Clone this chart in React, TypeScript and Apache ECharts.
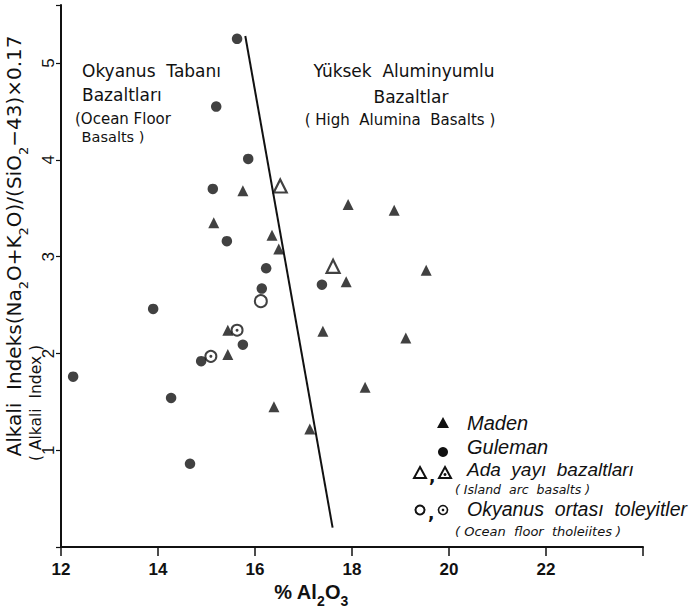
import React, { useEffect, useRef } from "react";
import * as echarts from "echarts";

// Data: [Al2O3 %, Alkali index]
const maden = [
  [15.75, 3.68], [17.92, 3.54], [18.87, 3.48], [15.15, 3.35], [16.35, 3.22],
  [16.49, 3.08], [17.88, 2.74], [19.53, 2.86], [17.4, 2.23], [19.11, 2.16],
  [18.27, 1.65], [15.44, 2.24], [15.44, 1.99], [16.39, 1.45], [17.13, 1.22],
];
const guleman = [
  [15.63, 5.25], [15.2, 4.55], [15.86, 4.01], [15.13, 3.7], [15.42, 3.16],
  [16.23, 2.88], [16.14, 2.67], [17.38, 2.71], [13.9, 2.46], [15.75, 2.09],
  [14.89, 1.92], [12.25, 1.76], [14.27, 1.54], [14.66, 0.86],
];
const islandArcOpen = [[16.52, 3.73], [17.61, 2.9]];
const oceanFloorOpen = [[16.12, 2.54]];
const oceanFloorDotted = [[15.09, 1.97], [15.63, 2.24]];
const boundary = [[15.8, 5.28], [17.6, 0.2]];

const xTicks = [12, 14, 16, 18, 20, 22];
const yTicks = [1, 2, 3, 4, 5];

const INK = "#111";
const FONT = "DejaVu Sans";
const LFONT = "Liberation Sans";

export default function App() {
  const ref = useRef<HTMLDivElement>(null);
  useEffect(() => {
    document.body.style.margin = "0";
    const chart = echarts.init(ref.current!, null, { renderer: "svg" });
    const t = (text: string, x: number, y: number, size: number, extra: any = {}) => ({
      type: "text",
      x,
      y,
      silent: true,
      style: {
        text,
        fill: INK,
        fontSize: size,
        fontFamily: FONT,
        align: "left",
        verticalAlign: "middle",
        ...extra,
      },
    });
    const sub = { fontSize: 12, fontFamily: FONT, fill: INK, verticalAlign: "bottom", padding: [0, 0, -6, 0] };
    chart.setOption({
      animation: false,
      backgroundColor: "#fff",
      grid: { left: 61, right: 52, top: 5, bottom: 65 },
      xAxis: {
        type: "value",
        min: 12,
        max: 24,
        interval: 2,
        axisLine: { lineStyle: { color: INK, width: 2 } },
        axisTick: { length: 9, lineStyle: { color: INK, width: 1.5 } },
        splitLine: { show: false },
        axisLabel: {
          margin: 14,
          color: INK,
          fontSize: 17,
          fontWeight: "bold",
          fontFamily: LFONT,
          formatter: (v: number) => (xTicks.includes(v) ? String(v) : ""),
        },
      },
      yAxis: {
        type: "value",
        min: 0,
        max: 5.6,
        interval: 1,
        axisLine: { show: true, lineStyle: { color: INK, width: 2 } },
        axisTick: { show: true, length: 5, lineStyle: { color: INK, width: 1.2 } },
        splitLine: { show: false },
        axisLabel: {
          rotate: 90,
          margin: 4,
          color: INK,
          fontSize: 17,
          fontFamily: LFONT,
          formatter: (v: number) => (yTicks.includes(v) ? String(v) : ""),
        },
      },
      series: [
        {
          type: "line",
          data: boundary,
          symbol: "none",
          lineStyle: { color: INK, width: 2 },
          z: 1,
        },
        {
          name: "Maden",
          type: "scatter",
          data: maden,
          symbol: "triangle",
          symbolSize: 11,
          itemStyle: { color: INK },
        },
        {
          name: "Guleman",
          type: "scatter",
          data: guleman,
          symbol: "circle",
          symbolSize: 10.5,
          itemStyle: { color: INK },
        },
        {
          name: "Ada yayı bazaltları",
          type: "scatter",
          data: islandArcOpen,
          symbol: "triangle",
          symbolSize: 13,
          itemStyle: { color: "#fff", borderColor: INK, borderWidth: 2.2 },
        },
        {
          name: "Okyanus ortası toleyitler",
          type: "scatter",
          data: oceanFloorOpen,
          symbol: "circle",
          symbolSize: 12,
          itemStyle: { color: "#fff", borderColor: INK, borderWidth: 2 },
        },
        {
          name: "Okyanus ortası toleyitler (dot)",
          type: "scatter",
          data: oceanFloorDotted,
          symbol: "circle",
          symbolSize: 11,
          itemStyle: { color: "#fff", borderColor: INK, borderWidth: 2 },
        },
        {
          name: "dot centre",
          type: "scatter",
          data: oceanFloorDotted,
          symbol: "circle",
          symbolSize: 3,
          itemStyle: { color: INK },
          z: 3,
        },
      ],
      graphic: [
        // region labels
        t("Okyanus  Tabanı", 82, 71, 17),
        t("Bazaltları", 82, 95, 17),
        t("(Ocean Floor", 75, 119, 15),
        t(" Basalts )", 77, 137, 14.5),
        t("Yüksek  Aluminyumlu", 404, 71, 17, { align: "center" }),
        t("Bazaltlar", 411, 97, 17, { align: "center" }),
        t("( High  Alumina  Basalts )", 400, 120, 15, { align: "center" }),
        // axis titles
        {
          type: "text",
          x: 311,
          y: 592,
          silent: true,
          style: {
            text: "{a|% Al}{s|2}{a|O}{s|3}",
            align: "center",
            verticalAlign: "middle",
            rich: {
              a: { fontSize: 20, fontWeight: "bold", fontFamily: LFONT, fill: INK },
              s: { ...sub, fontFamily: LFONT, fontSize: 14, fontWeight: "bold" },
            },
          },
        },
        {
          type: "text",
          x: 14,
          y: 246,
          rotation: Math.PI / 2,
          silent: true,
          style: {
            text: "{a|Alkali  Indeks(Na}{s|2}{a|O+K}{s|2}{a|O)/(SiO}{s|2}{a|−43)×0.17}",
            align: "center",
            verticalAlign: "middle",
            rich: {
              a: { fontSize: 20, fontFamily: FONT, fill: INK },
              s: { ...sub, fontSize: 13 },
            },
          },
        },
        {
          type: "text",
          x: 36,
          y: 403,
          rotation: Math.PI / 2,
          silent: true,
          style: {
            text: "( Alkali  Index )",
            align: "center",
            verticalAlign: "middle",
            fontSize: 15.5,
            fontFamily: FONT,
            fill: INK,
          },
        },
        // legend
        {
          type: "polygon",
          silent: true,
          shape: { points: [[443, 417], [449, 428], [437, 428]] },
          style: { fill: INK },
        },
        t("Maden", 467, 423, 20, { fontStyle: "italic", fontFamily: LFONT }),
        { type: "circle", silent: true, shape: { cx: 443, cy: 452, r: 5 }, style: { fill: INK } },
        t("Guleman", 467, 447, 20, { fontStyle: "italic", fontFamily: LFONT }),
        {
          type: "polygon",
          silent: true,
          shape: { points: [[420, 467], [426, 478], [414, 478]] },
          style: { fill: "#fff", stroke: INK, lineWidth: 2 },
        },
        t(",", 429, 476, 17, { fontWeight: "bold" }),
        {
          type: "polygon",
          silent: true,
          shape: { points: [[445, 467], [451, 478], [439, 478]] },
          style: { fill: "#fff", stroke: INK, lineWidth: 2 },
        },
        { type: "circle", silent: true, shape: { cx: 445, cy: 474.5, r: 1.5 }, style: { fill: INK } },
        t("Ada  yayı  bazaltları", 467, 469, 19, { fontStyle: "italic", fontFamily: LFONT }),
        t("( Island  arc  basalts )", 455, 489, 12.5, { fontStyle: "italic" }),
        { type: "circle", silent: true, shape: { cx: 420, cy: 510, r: 4.5 }, style: { fill: "#fff", stroke: INK, lineWidth: 2 } },
        t(",", 428, 513, 17, { fontWeight: "bold" }),
        { type: "circle", silent: true, shape: { cx: 443, cy: 510, r: 4.5 }, style: { fill: "#fff", stroke: INK, lineWidth: 1.6 } },
        { type: "circle", silent: true, shape: { cx: 443, cy: 510, r: 1.3 }, style: { fill: INK } },
        t("Okyanus  ortası  toleyitler", 467, 509, 19.5, { fontStyle: "italic", fontFamily: LFONT }),
        t("( Ocean  floor  tholeiites )", 455, 531, 13, { fontStyle: "italic" }),
      ],
    });
    return () => chart.dispose();
  }, []);
  return <div ref={ref} style={{ width: 695, height: 612 }} />;
}
